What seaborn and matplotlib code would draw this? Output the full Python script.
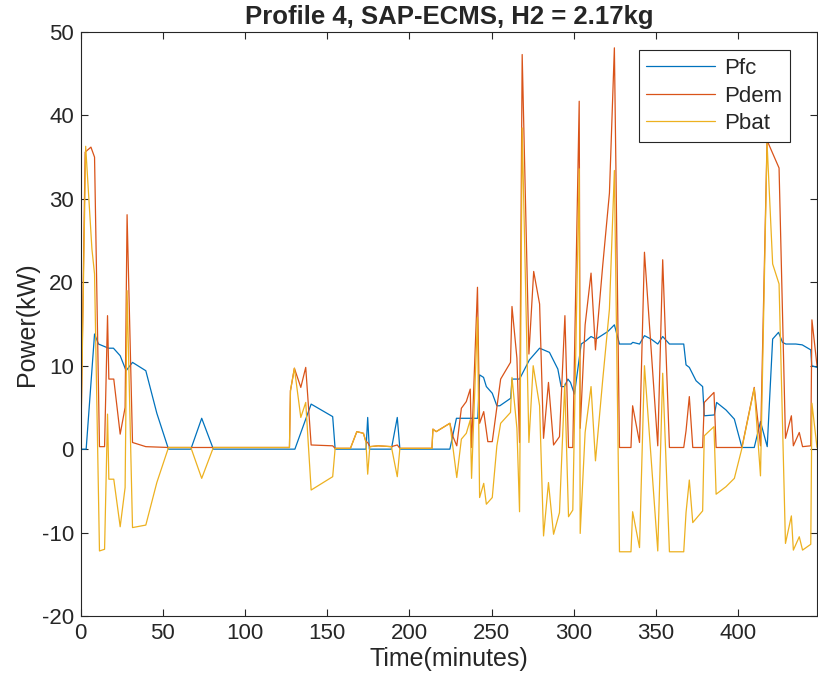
import matplotlib
matplotlib.use('Agg')
import matplotlib.pyplot as plt
import seaborn as sns
import pandas as pd

# Pfc (fuel cell power)
t_fc = [0, 3.3, 8.4, 10.8, 16.9, 19.9, 24.0, 27.6, 31.5, 39.6, 46.3, 53.4, 67.0, 73.6, 80.7,
        130.3, 140.2, 153.3, 154.8, 173.6, 174.6, 175.6, 189.0, 192.6, 194.2, 224.6, 228.6,
        241.6, 242.7, 245.1, 246.8, 250.4, 253.2, 255.0, 261.6, 262.4, 267.0, 273.0, 279.2,
        285.2, 290.3, 292.3, 294.3, 296.4, 298.0, 300.4, 304.5, 307.5, 310.5, 313.6, 320.7,
        324.7, 327.8, 334.8, 335.9, 340.0, 343.0, 347.0, 351.1, 354.1, 358.2, 366.9, 368.3,
        370.3, 374.4, 378.4, 379.4, 385.5, 386.9, 392.6, 397.7, 402.3, 409.8, 413.6, 417.7,
        421.0, 424.6, 427.0, 429.0, 435.1, 439.0, 444.2, 444.8, 448.0]
pfc = [0, 0, 13.8, 12.6, 12.1, 12.1, 11.2, 9.4, 10.4, 9.4, 4.3, 0, 0, 3.7, 0,
       0, 5.4, 3.9, 0, 0, 3.8, 0, 0, 3.8, 0, 0, 3.7,
       3.7, 8.9, 8.6, 7.5, 6.7, 5.2, 5.2, 6.1, 8.4, 8.4, 10.7, 12.1,
       11.6, 9.6, 7.5, 7.5, 8.4, 8.0, 6.6, 12.6, 13.0, 13.5, 13.2, 14.1,
       14.9, 12.6, 12.6, 12.8, 12.6, 13.6, 13.2, 12.6, 13.5, 12.6, 12.6, 10.1,
       9.8, 8.2, 7.5, 4.0, 4.1, 5.6, 4.7, 3.6, 0.2, 0.2, 3.3, 0.3,
       13.2, 14.0, 12.8, 12.6, 12.6, 12.5, 11.9, 10.0, 9.8]

# Pdem (demanded power)
t_dem = [0, 2.7, 6.2, 8.4, 11.4, 14.5, 16.3, 17.1, 20.1, 24.0, 27.0, 28.2, 31.5, 39.6, 53.4,
         127.0, 127.6, 130.0, 133.9, 136.9, 140.2, 153.3, 154.8, 164.1, 168.0, 172.0, 173.5,
         174.6, 175.9, 181.0, 189.0, 192.6, 194.2, 213.7, 214.3, 216.3, 224.6, 226.5, 228.8,
         231.6, 234.6, 237.0, 237.8, 241.4, 242.7, 245.2, 247.7, 250.4, 255.5, 261.5, 262.4,
         265.4, 267.0, 268.6, 272.7, 275.6, 279.2, 281.6, 284.6, 287.7, 291.3, 294.6, 296.8,
         299.4, 303.3, 303.9, 306.9, 310.5, 313.2, 317.6, 321.7, 324.7, 327.8, 334.8, 335.8,
         340.0, 343.0, 351.1, 354.1, 358.2, 366.9, 368.3, 370.3, 372.4, 378.4, 379.4, 385.3,
         386.6, 402.3, 409.8, 413.6, 417.6, 424.9, 428.8, 432.4, 433.6, 437.2, 439.2, 444.2,
         444.9, 448.0]
pdem = [0, 35.6, 36.2, 35.0, 0.3, 0.3, 16.0, 8.4, 8.4, 1.8, 5.0, 28.1, 0.8, 0.3, 0.2,
        0.2, 7.0, 9.7, 7.4, 9.8, 0.5, 0.4, 0.1, 0.1, 2.1, 1.9, 0.9,
        0.8, 0.3, 0.4, 0.3, 0.5, 0.1, 0.1, 2.4, 2.1, 3.1, 1.5, 0.4,
        4.9, 5.7, 7.2, 0.2, 19.4, 3.1, 4.5, 0.9, 0.9, 8.4, 10.4, 17.1,
        10.9, 0.8, 47.3, 11.4, 21.3, 17.4, 1.3, 8.0, 0.5, 1.5, 16.0, 0.2,
        0.2, 41.7, 2.5, 14.9, 21.1, 11.9, 22.0, 30.7, 48.1, 0.2, 0.2, 5.2,
        0.8, 23.6, 0.4, 22.7, 0.2, 0.2, 2.2, 6.3, 0.2, 0.2, 5.6, 6.8,
        0.2, 0.2, 7.4, 0.4, 37.0, 33.7, 1.3, 4.0, 0.4, 2.0, 0.3, 0.4,
        15.5, 10.0]

# Pbat (battery power)
t_bat = [0, 3.0, 6.8, 8.4, 11.4, 14.5, 16.3, 17.1, 20.1, 24.0, 27.0, 28.2, 31.5, 39.6, 46.3,
         53.4, 67.0, 73.6, 80.7, 127.0, 127.6, 130.0, 133.9, 136.9, 140.2, 153.3, 154.8,
         164.1, 168.0, 172.0, 173.5, 174.6, 175.9, 181.0, 189.0, 192.6, 194.2, 213.7, 214.3,
         216.3, 224.6, 228.8, 231.6, 234.6, 237.0, 237.8, 241.4, 242.7, 245.2, 246.8, 250.4,
         253.2, 255.5, 261.5, 262.4, 265.4, 267.0, 268.6, 272.7, 275.3, 279.2, 281.6, 284.6,
         287.7, 291.3, 294.5, 296.8, 299.4, 303.3, 303.9, 306.9, 310.5, 313.2, 317.6, 321.7,
         324.7, 327.8, 334.8, 335.8, 340.0, 343.0, 351.1, 354.1, 358.2, 366.9, 368.3, 370.3,
         372.4, 378.4, 379.4, 385.3, 386.6, 392.6, 397.7, 402.3, 409.8, 413.6, 417.6, 421.0,
         424.9, 428.8, 432.4, 433.6, 437.2, 439.2, 444.2, 444.9, 448.0]
pbat = [0, 36.3, 24.0, 21.0, -12.2, -12.0, 4.2, -3.6, -3.6, -9.3, -4.6, 19.0, -9.4, -9.1, -4.0,
        0.2, 0.2, -3.5, 0.2, 0.2, 7.0, 9.7, 3.8, 5.6, -4.9, -3.3, 0.1,
        0.1, 2.1, 1.9, 0.9, -3.0, 0.3, 0.4, 0.3, -3.3, 0.1, 0.1, 2.4,
        2.1, 3.1, -3.4, 1.2, 1.9, 3.5, -3.5, 15.8, -5.8, -4.1, -6.6, -5.8,
        0.4, 3.1, 4.4, 8.6, 2.5, -7.5, 38.5, 0.8, 10.0, 5.2, -10.4, -4.0,
        -10.2, -7.6, 7.8, -8.1, -7.3, 33.6, -10.1, 2.0, 7.5, -1.4, 8.3, 16.8,
        33.4, -12.3, -12.3, -7.5, -11.8, 10.0, -12.2, 9.1, -12.3, -12.3, -7.6, -3.7,
        -8.8, -7.4, 1.6, 2.7, -5.4, -4.5, -3.5, 0.1, 7.3, -3.2, 36.7, 22.2,
        19.8, -11.3, -8.0, -12.1, -10.5, -12.1, -11.4, 5.5, 0.2]

series = ['Pfc', 'Pdem', 'Pbat']
colors = ['#0072BD', '#D95319', '#EDB120']

df = pd.concat([
    pd.DataFrame({'t': t_fc, 'P': pfc, 'series': 'Pfc'}),
    pd.DataFrame({'t': t_dem, 'P': pdem, 'series': 'Pdem'}),
    pd.DataFrame({'t': t_bat, 'P': pbat, 'series': 'Pbat'}),
], ignore_index=True)

sns.set_style('white')
plt.rcParams['font.family'] = ['Liberation Sans', 'DejaVu Sans']
plt.rcParams['axes.unicode_minus'] = False

fig = plt.figure(figsize=(8.18, 6.85), dpi=100)
ax = fig.add_axes([0.0987, 0.1007, 0.9001, 0.8526])

sns.lineplot(data=df, x='t', y='P', hue='series', hue_order=series,
             palette=dict(zip(series, colors)), estimator=None, sort=False,
             linewidth=0.9, ax=ax)

ax.set_xlim(0, 448)
ax.set_ylim(-20, 50)
ax.set_xticks(range(0, 401, 50))
ax.set_yticks(range(-20, 51, 10))
ax.tick_params(direction='in', length=5, width=0.8, colors='#262626',
               labelsize=16, top=True, right=True, bottom=True, left=True,
               labeltop=False, labelright=False, pad=5)
for s in ax.spines.values():
    s.set_visible(True)
    s.set_color('#262626')
    s.set_linewidth(0.8)

ax.set_xlabel('Time(minutes)', fontsize=18, color='#262626', labelpad=2)
ax.set_ylabel('Power(kW)', fontsize=18, color='#262626', labelpad=2)
ax.set_title('Profile 4, SAP-ECMS, H2 = 2.17kg', fontsize=18.5, fontweight='bold', pad=6)

leg = ax.legend(loc='upper right', bbox_to_anchor=(0.9633, 0.969), borderaxespad=0,
                fontsize=16, frameon=True, fancybox=False, framealpha=1, edgecolor='#262626',
                handlelength=3.1, borderpad=0.35, labelspacing=0.3, handletextpad=0.4)
leg.get_frame().set_linewidth(0.8)

plt.savefig('out.png', dpi=100)
